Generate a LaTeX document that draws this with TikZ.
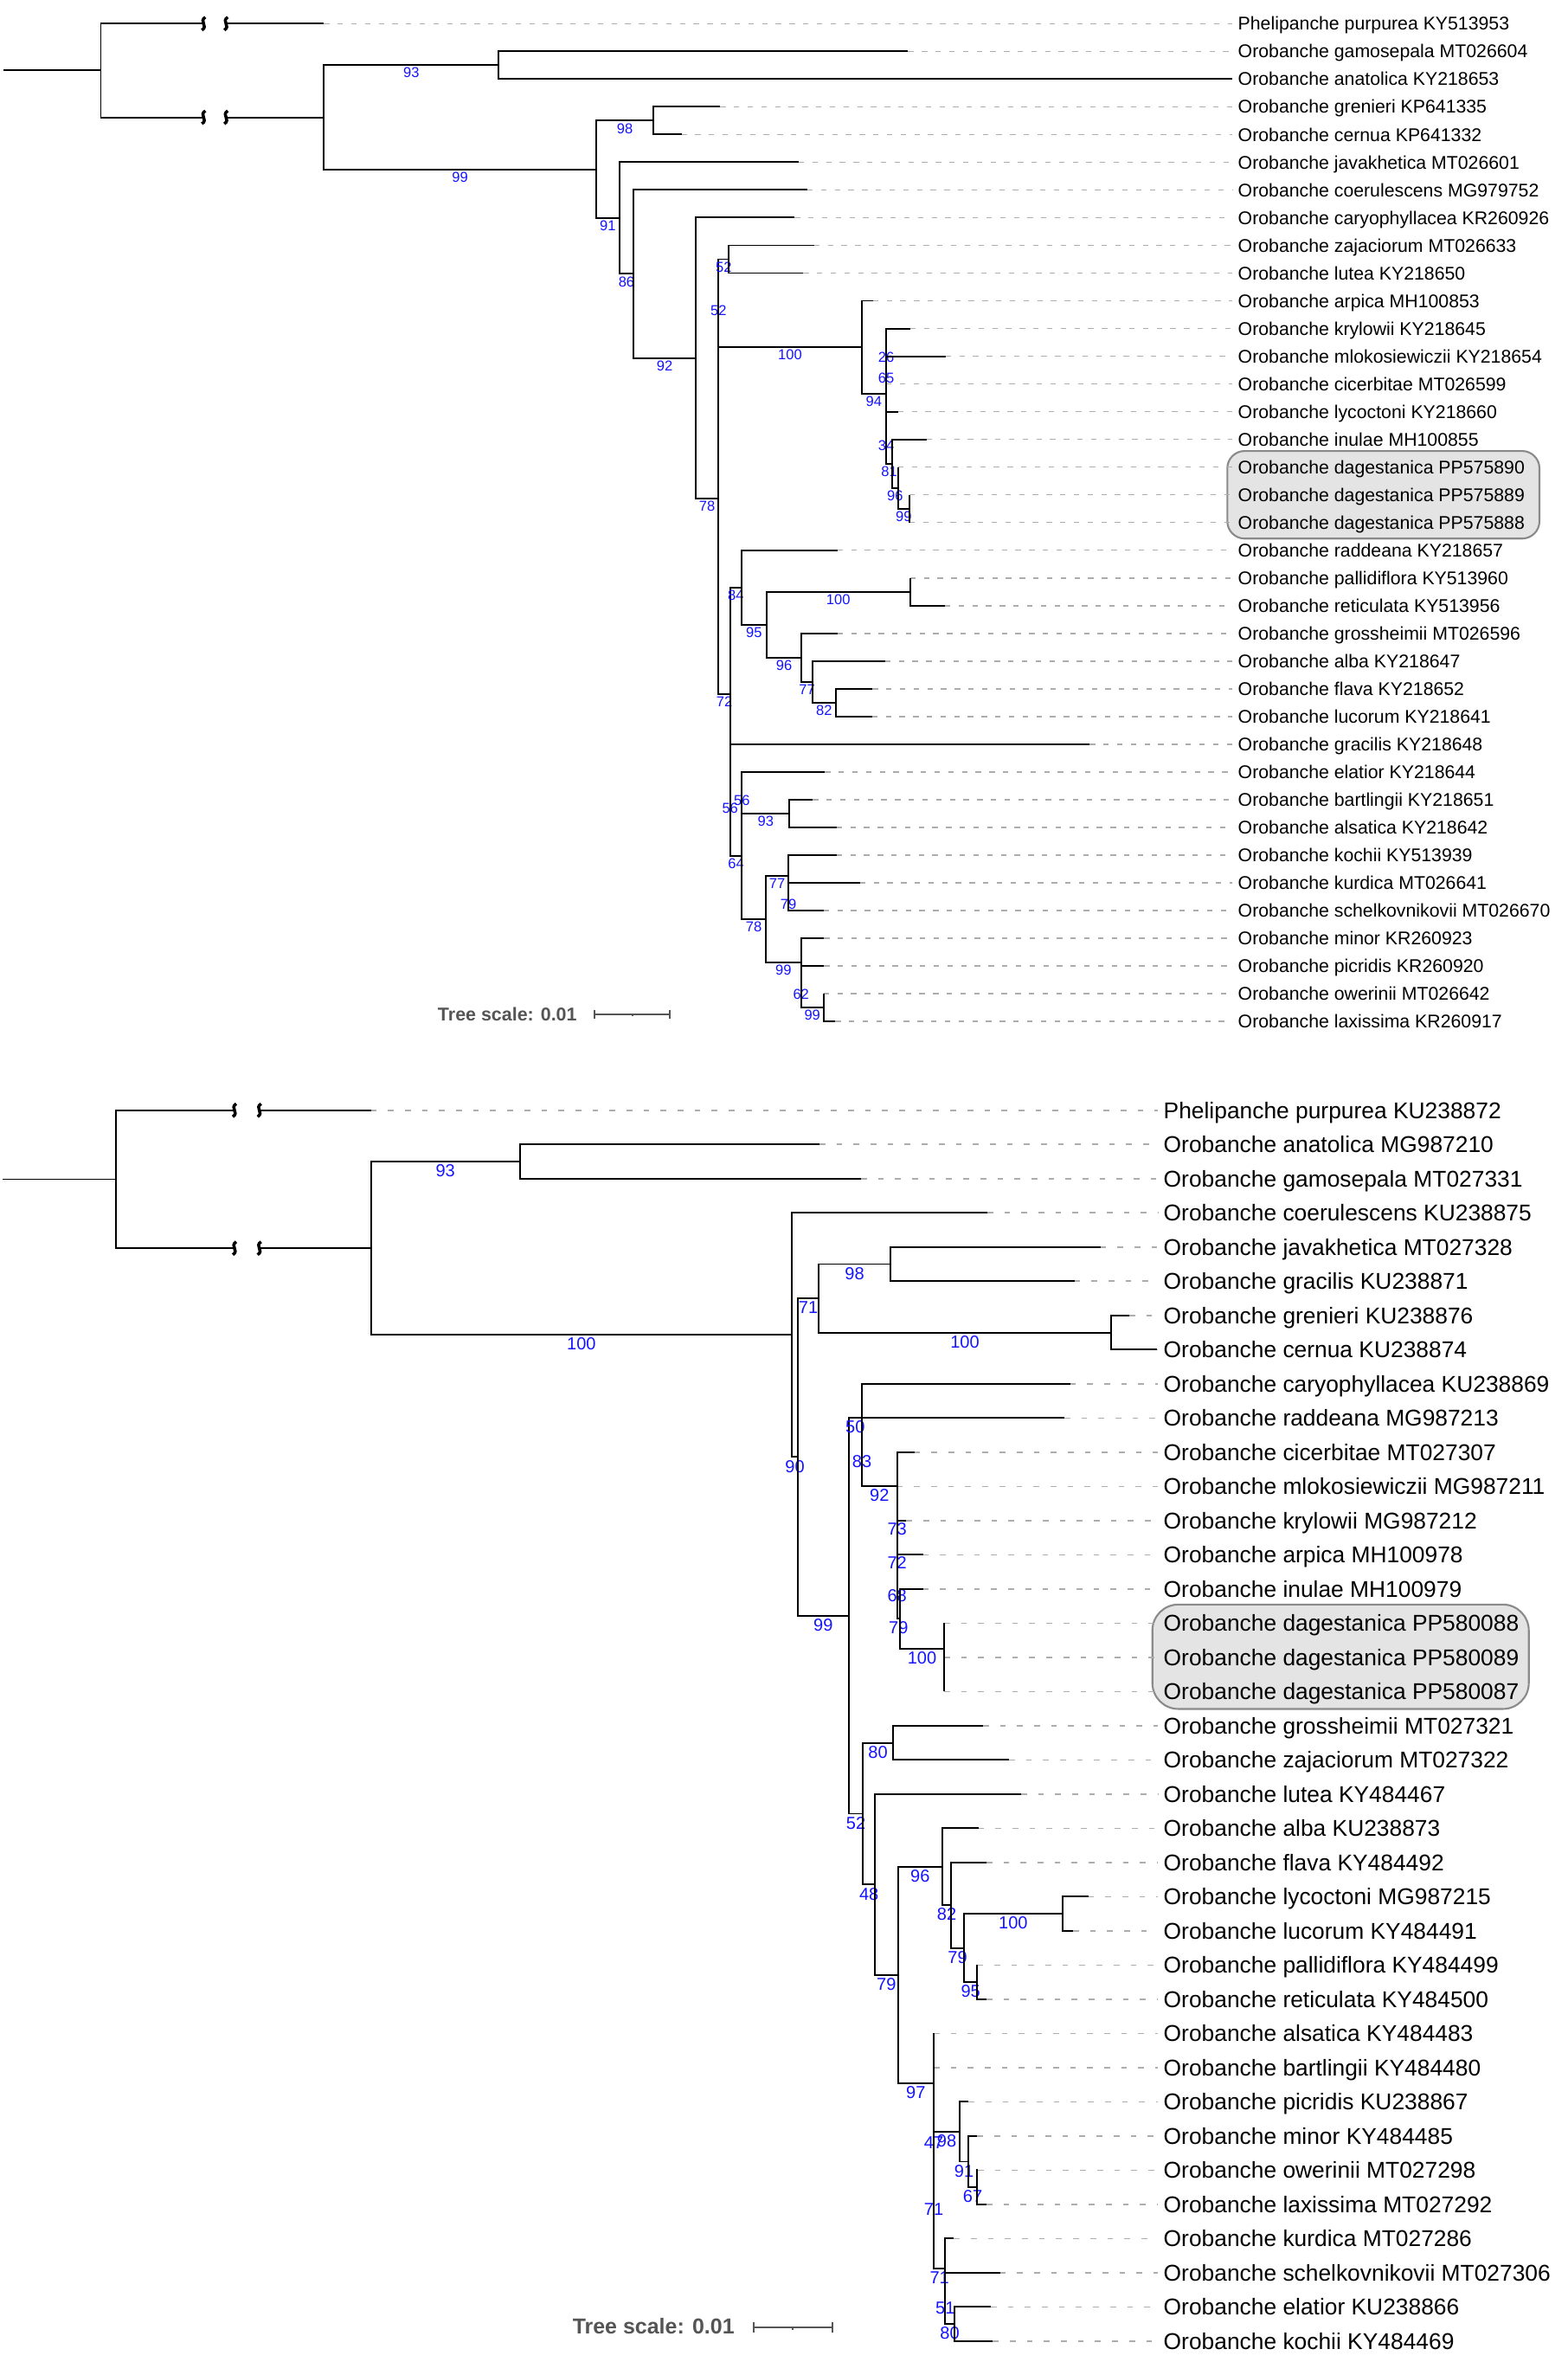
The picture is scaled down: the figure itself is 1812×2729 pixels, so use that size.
\documentclass[tikz,border=0pt]{standalone}
\usepackage{fontspec}
\setmainfont{Liberation Sans}
\usetikzlibrary{calc}
\definecolor{ink}{HTML}{000000}
\definecolor{boot}{HTML}{1414FF}
\definecolor{guidegray}{HTML}{ADADAD}
\definecolor{shade}{HTML}{E4E4E4}
\definecolor{shadeline}{HTML}{8A8A8A}
\definecolor{scalegray}{HTML}{555555}
\tikzset{
 br/.style={ink,line width=0.55pt},
 guide/.style={guidegray,line width=0.45pt},
 brk/.style={ink,line width=1pt},
 hl/.style={fill=shade,draw=shadeline,line width=0.6pt},
 scaletxt/.style={text=scalegray,anchor=east,inner sep=0,text depth=0pt},
 scalebar/.style={scalegray,line width=0.6pt}
}
\newcommand\brkmark[1]{\draw[brk] ([shift={(0.02cm,0.075cm)}]#1) .. controls ([shift={(-0.06cm,0.025cm)}]#1) and ([shift={(0.06cm,-0.025cm)}]#1) .. ([shift={(-0.02cm,-0.075cm)}]#1);}

\begin{document}
\begin{tikzpicture}[x=0.01cm,y=-0.01cm]
\useasboundingbox (0,0) rectangle (1812,2729);
% upper tree
\begin{scope}[yshift=-0.273cm,y=-0.32cm,
 leaf/.style={anchor=west,inner xsep=0.06cm,inner ysep=0,text height=4.33pt,text depth=0pt,font=\fontsize{6.05}{7}\selectfont},
 bs/.style={text=boot,inner sep=0,text height=3.37pt,text depth=0pt,yshift=-0.087cm,font=\fontsize{4.7}{5}\selectfont},
 guide/.append style={dash pattern=on 1.8pt off 2.7pt}]
 \draw[hl,rounded corners=0.2cm] (1418.3,15.42) rectangle (1779,18.58);
 \foreach \tx/\txt [count=\i from 0] in {
  374.2/Phelipanche purpurea KY513953, 1049.4/Orobanche gamosepala MT026604,
  1424/Orobanche anatolica KY218653, 832.3/Orobanche grenieri KP641335,
  787.5/Orobanche cernua KP641332, 923/Orobanche javakhetica MT026601,
  933/Orobanche coerulescens MG979752, 918.3/Orobanche caryophyllacea KR260926,
  940.7/Orobanche zajaciorum MT026633, 928.3/Orobanche lutea KY218650,
  1008.7/Orobanche arpica MH100853, 1051.7/Orobanche krylowii KY218645,
  1092.7/Orobanche mlokosiewiczii KY218654, 1024/Orobanche cicerbitae MT026599,
  1037.7/Orobanche lycoctoni KY218660, 1071/Orobanche inulae MH100855,
  1037.7/Orobanche dagestanica PP575890, 1051/Orobanche dagestanica PP575889,
  1051/Orobanche dagestanica PP575888, 967.7/Orobanche raddeana KY218657,
  1051.7/Orobanche pallidiflora KY513960, 1092/Orobanche reticulata KY513956,
  967.7/Orobanche grossheimii MT026596, 1022.7/Orobanche alba KY218647,
  1008.3/Orobanche flava KY218652, 1007.7/Orobanche lucorum KY218641,
  1259.3/Orobanche gracilis KY218648, 953.3/Orobanche elatior KY218644,
  939.3/Orobanche bartlingii KY218651, 966.7/Orobanche alsatica KY218642,
  966.7/Orobanche kochii KY513939, 993.7/Orobanche kurdica MT026641,
  951.7/Orobanche schelkovnikovii MT026670, 952.3/Orobanche minor KR260923,
  952.3/Orobanche picridis KR260920, 951.7/Orobanche owerinii MT026642,
  965.3/Orobanche laxissima KR260917}{
  \coordinate (ta\i) at (\tx,\i);
  \node[leaf] (na\i) at (1424,\i) {\txt};
  \draw[guide] (ta\i) -- (na\i);
 }
 \coordinate (a0) at (3.5,1.69);
 \coordinate (aroot) at (116.5,1.69);
 \coordinate (aA) at (374.2,3.38);
 \coordinate (ak1) at (235.3,0);
 \coordinate (ak2) at (261.2,0);
 \coordinate (ak3) at (235.3,3.38);
 \coordinate (ak4) at (261.2,3.38);
 \coordinate (a93) at (576.3,1.5);
 \coordinate (a99) at (688.8,5.26);
 \coordinate (a98) at (755.4,3.5);
 \coordinate (a91) at (715.7,7.02);
 \coordinate (a86) at (732.2,9.03);
 \coordinate (a92) at (804,12.07);
 \coordinate (a78) at (830.3,17.133);
 \coordinate (a52) at (830.3,10.086);
 \coordinate (a52i) at (842.3,8.5);
 \coordinate (a100) at (995.7,11.672);
 \coordinate (a94) at (1024,13.344);
 \coordinate (a26) at (1024,11.75);
 \coordinate (a65) at (1024,12.5);
 \coordinate (a34) at (1024,14.9375);
 \coordinate (a81) at (1031,15.875);
 \coordinate (a96) at (1037.7,16.75);
 \coordinate (a99i) at (1051,17.5);
 \coordinate (a72) at (843.7,24.18);
 \coordinate (a84) at (857,20.344);
 \coordinate (a95) at (885.7,21.6875);
 \coordinate (a100i) at (1051.7,20.5);
 \coordinate (a96i) at (926.3,22.875);
 \coordinate (a77) at (938.7,23.75);
 \coordinate (a82) at (966,24.5);
 \coordinate (a56) at (843.7,28.016);
 \coordinate (a64) at (857.3,30.031);
 \coordinate (a56i) at (857.3,27.75);
 \coordinate (a93i) at (912.3,28.5);
 \coordinate (a78i) at (885,32.3125);
 \coordinate (a77i) at (911,30.75);
 \coordinate (a79) at (911,31.5);
 \coordinate (a99j) at (925.7,33.875);
 \coordinate (a62) at (925.7,34.75);
 \coordinate (a99k) at (951.7,35.5);
 % root and broken branches
 \draw[br] (a0) -- (aroot);
 \draw[br] (aroot) |- (ak1);
 \draw[br] (ak2) -- (ta0);
 \draw[br] (aroot) |- (ak3);
 \draw[br] (ak4) -- (aA);
 \foreach \k in {ak1,ak2,ak3,ak4} {\brkmark{\k}}
 % supported branches
 \foreach \p/\c/\s in {aA/a93/93, aA/a99/99, a99/a98/98, a99/a91/91, a91/a86/86,
  a86/a92/92, a92/a78/78, a78/a52/52, a78/a72/72, a52/a52i/52, a52/a100/100,
  a100/a94/94, a94/a26/26, a94/a34/34, a26/a65/65, a34/a81/81, a81/a96/96,
  a96/a99i/99, a72/a84/84, a72/a56/56, a84/a95/95, a95/a100i/100, a95/a96i/96,
  a96i/a77/77, a77/a82/82, a56/a64/64, a64/a56i/56, a64/a78i/78, a56i/a93i/93,
  a78i/a77i/77, a78i/a99j/99, a77i/a79/79, a99j/a62/62, a62/a99k/99}
  \draw[br] (\p) |- (\c) node[pos=.75,bs] {\s};
 % terminal branches
 \foreach \p/\c in {a93/ta1, a93/ta2, a98/ta3, a98/ta4, a91/ta5, a86/ta6, a92/ta7,
  a52i/ta8, a52i/ta9, a100/ta10, a26/ta11, a65/ta12, a65/ta13, a34/ta14, a81/ta15,
  a96/ta16, a99i/ta17, a99i/ta18, a84/ta19, a100i/ta20, a100i/ta21, a96i/ta22,
  a77/ta23, a82/ta24, a82/ta25, a56/ta26, a56i/ta27, a93i/ta28, a93i/ta29,
  a77i/ta30, a79/ta31, a79/ta32, a99j/ta33, a62/ta34, a99k/ta35, a99k/ta36}
  \draw[br] (\p) |- (\c);
\end{scope}
% lower tree
\begin{scope}[yshift=-12.82cm,y=-0.3948cm,
 leaf/.style={anchor=west,inner xsep=0.06cm,inner ysep=0,text height=5.37pt,text depth=0pt,font=\fontsize{7.5}{9}\selectfont},
 bs/.style={text=boot,inner sep=0,text height=4.08pt,text depth=0pt,yshift=-0.104cm,font=\fontsize{5.7}{6}\selectfont},
 guide/.append style={dash pattern=on 1.9pt off 3.7pt}]
 \draw[hl,rounded corners=0.3cm] (1331.7,14.456) rectangle (1766.7,17.51);
 \foreach \tx/\txt [count=\i from 0] in {
  428.6/Phelipanche purpurea KU238872, 947/Orobanche anatolica MG987210,
  995/Orobanche gamosepala MT027331, 1141/Orobanche coerulescens KU238875,
  1271.7/Orobanche javakhetica MT027328, 1241.7/Orobanche gracilis KU238871,
  1305/Orobanche grenieri KU238876, 1337.3/Orobanche cernua KU238874,
  1236.7/Orobanche caryophyllacea KU238869, 1230/Orobanche raddeana MG987213,
  1056.7/Orobanche cicerbitae MT027307, 1036.7/Orobanche mlokosiewiczii MG987211,
  1047.3/Orobanche krylowii MG987212, 1066.7/Orobanche arpica MH100978,
  1066.7/Orobanche inulae MH100979, 1091/Orobanche dagestanica PP580088,
  1091/Orobanche dagestanica PP580089, 1091/Orobanche dagestanica PP580087,
  1136/Orobanche grossheimii MT027321, 1166/Orobanche zajaciorum MT027322,
  1180/Orobanche lutea KY484467, 1130.7/Orobanche alba KU238873,
  1140/Orobanche flava KY484492, 1257.7/Orobanche lycoctoni MG987215,
  1240/Orobanche lucorum KY484491, 1129.3/Orobanche pallidiflora KY484499,
  1140/Orobanche reticulata KY484500, 1079/Orobanche alsatica KY484483,
  1079/Orobanche bartlingii KY484480, 1119.3/Orobanche picridis KU238867,
  1129.3/Orobanche minor KY484485, 1130/Orobanche owerinii MT027298,
  1140/Orobanche laxissima MT027292, 1102.3/Orobanche kurdica MT027286,
  1155.7/Orobanche schelkovnikovii MT027306, 1145/Orobanche elatior KU238866,
  1147.3/Orobanche kochii KY484469}{
  \coordinate (tb\i) at (\tx,\i);
  \node[leaf] (nb\i) at (1338,\i) {\txt};
  \draw[guide] (tb\i) -- (nb\i);
 }
 \coordinate (b0) at (3,2.018);
 \coordinate (broot) at (133.9,2.018);
 \coordinate (bB) at (428.6,4.036);
 \coordinate (bk1) at (271,0);
 \coordinate (bk2) at (299.7,0);
 \coordinate (bk3) at (271,4.036);
 \coordinate (bk4) at (299.7,4.036);
 \coordinate (b93) at (600.8,1.5);
 \coordinate (b100) at (915.2,6.571);
 \coordinate (b90) at (922,10.143);
 \coordinate (b71) at (946,5.5);
 \coordinate (b98) at (1029,4.5);
 \coordinate (b100i) at (1284,6.5);
 \coordinate (b99) at (980.7,14.786);
 \coordinate (b50) at (996,8.998);
 \coordinate (b83) at (996,9.996);
 \coordinate (b92) at (1036.7,10.992);
 \coordinate (b73) at (1036.7,11.984);
 \coordinate (b72) at (1036.7,12.969);
 \coordinate (b68) at (1036.7,13.9375);
 \coordinate (b79) at (1040,14.875);
 \coordinate (b100j) at (1091,15.75);
 \coordinate (bD) at (1091,16.5);
 \coordinate (b52) at (997.3,20.574);
 \coordinate (b80) at (1031.7,18.5);
 \coordinate (b48) at (1011,22.648);
 \coordinate (b79i) at (1037.7,25.297);
 \coordinate (b96) at (1089,22.125);
 \coordinate (b82) at (1099,23.25);
 \coordinate (b79j) at (1114,24.5);
 \coordinate (b100k) at (1227.7,23.5);
 \coordinate (b95) at (1129.3,25.5);
 \coordinate (b97) at (1079,28.469);
 \coordinate (b47) at (1079,29.9375);
 \coordinate (b71i) at (1079,31.875);
 \coordinate (b98i) at (1109,29.875);
 \coordinate (b91) at (1119,30.75);
 \coordinate (b67) at (1129,31.5);
 \coordinate (b71j) at (1092.3,33.875);
 \coordinate (b51) at (1092.3,34.75);
 \coordinate (b80i) at (1102.7,35.5);
 % root and broken branches
 \draw[br] (b0) -- (broot);
 \draw[br] (broot) |- (bk1);
 \draw[br] (bk2) -- (tb0);
 \draw[br] (broot) |- (bk3);
 \draw[br] (bk4) -- (bB);
 \foreach \k in {bk1,bk2,bk3,bk4} {\brkmark{\k}}
 % supported branches
 \foreach \p/\c/\s in {bB/b93/93, bB/b100/100, b100/b90/90, b90/b71/71, b90/b99/99,
  b71/b98/98, b71/b100i/100, b99/b50/50, b99/b52/52, b50/b83/83, b83/b92/92,
  b92/b73/73, b73/b72/72, b72/b68/68, b68/b79/79, b79/b100j/100, b52/b80/80,
  b52/b48/48, b48/b79i/79, b79i/b96/96, b79i/b97/97, b96/b82/82, b82/b79j/79,
  b79j/b100k/100, b79j/b95/95, b97/b47/47, b47/b71i/71, b71i/b98i/98,
  b71i/b71j/71, b98i/b91/91, b91/b67/67, b71j/b51/51, b51/b80i/80}
  \draw[br] (\p) |- (\c) node[pos=.75,bs] {\s};
 \draw[br] (b100j) |- (bD);
 % terminal branches
 \foreach \p/\c in {b93/tb1, b93/tb2, b100/tb3, b98/tb4, b98/tb5, b100i/tb6, b100i/tb7,
  b50/tb8, b83/tb9, b92/tb10, b73/tb11, b72/tb12, b68/tb13, b79/tb14, b100j/tb15,
  bD/tb16, bD/tb17, b80/tb18, b80/tb19, b48/tb20, b96/tb21, b82/tb22, b100k/tb23,
  b100k/tb24, b95/tb25, b95/tb26, b97/tb27, b47/tb28, b98i/tb29, b91/tb30,
  b67/tb31, b67/tb32, b71j/tb33, b51/tb34, b80i/tb35, b80i/tb36}
  \draw[br] (\p) |- (\c);
\end{scope}
% scale bars
\node[scaletxt,text height=4.37pt,font=\fontsize{6.1}{7}\selectfont\bfseries] (scaleA) at (667.3,1171.7) {Tree scale: 0.01};
\coordinate (sa1) at (686.7,1171.7);
\coordinate (sa2) at (774,1171.7);
\coordinate (sam) at (731,1171.7);
\draw[scalebar] (sa1) -- (sa2);
\draw[scalebar] ([yshift=0.05cm]sa1) -- ([yshift=-0.05cm]sa1);
\draw[scalebar] ([yshift=0.05cm]sa2) -- ([yshift=-0.05cm]sa2);
\draw[scalebar] (sam) -- ([yshift=-0.025cm]sam);
\node[scaletxt,text height=5.08pt,font=\fontsize{7.1}{8}\selectfont\bfseries] (scaleB) at (849.4,2688) {Tree scale: 0.01};
\coordinate (sb1) at (871,2689);
\coordinate (sb2) at (961.7,2689);
\coordinate (sbm) at (916,2689);
\draw[scalebar] (sb1) -- (sb2);
\draw[scalebar] ([yshift=0.06cm]sb1) -- ([yshift=-0.06cm]sb1);
\draw[scalebar] ([yshift=0.06cm]sb2) -- ([yshift=-0.06cm]sb2);
\draw[scalebar] (sbm) -- ([yshift=-0.03cm]sbm);
\end{tikzpicture}
\end{document}
